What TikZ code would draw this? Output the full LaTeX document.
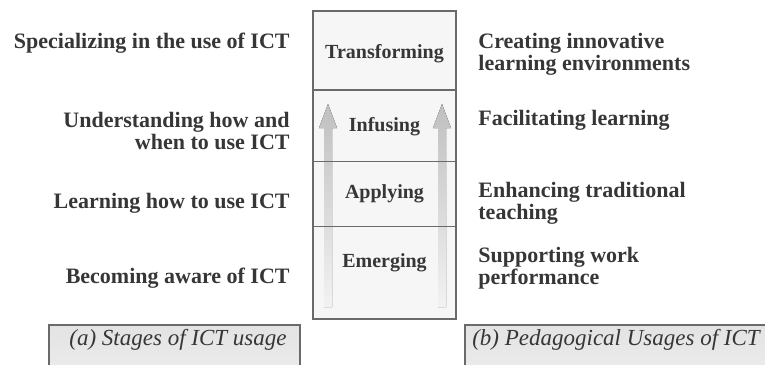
\documentclass[tikz,border=0pt]{standalone}
\usepackage{fontspec}
\setmainfont{Liberation Serif}
\usetikzlibrary{positioning}
\definecolor{inkgray}{HTML}{363636}
\definecolor{linegray}{HTML}{6A6A6A}
\begin{document}
\begin{tikzpicture}[x=0.5pt,y=-0.5pt,
    stage/.style={font=\fontsize{10}{11}\selectfont\bfseries, text=inkgray, inner sep=0pt},
    lefttext/.style={font=\fontsize{11}{11}\selectfont\bfseries, text=inkgray, inner sep=0pt, align=right, anchor=north east},
    righttext/.style={font=\fontsize{11}{11}\selectfont\bfseries, text=inkgray, inner sep=0pt, align=left, anchor=north west},
    captext/.style={font=\fontsize{11.5}{12}\selectfont\itshape, text=inkgray, inner sep=0pt},
    capbox/.style={draw=linegray, line width=0.7pt, top color=gray!22, bottom color=gray!14},
    uparrow/.style={top color=gray!50, bottom color=gray!10}]
  \useasboundingbox (0,0) rectangle (765,364);
  \clip (0,0) rectangle (765,364);
  % column
  \fill[gray!7] (313,11) rectangle (456,319);
  \fill[uparrow] (324,307) -- (324,128) -- (319,128) -- (328,104) -- (337,128) -- (332,128) -- (332,307) -- cycle;
  \fill[uparrow] (438,307) -- (438,128) -- (433,128) -- (442,104) -- (451,128) -- (446,128) -- (446,307) -- cycle;
  \draw [linegray, line width=0.6pt] (313,90) -- (456,90);
  \draw [linegray, line width=0.5pt] (313,161) -- (456,161);
  \draw [linegray, line width=0.5pt] (313,226) -- (456,226);
  \draw [linegray, line width=0.75pt] (313,11) rectangle (456,319);
  \node [stage] (transforming) at (384.5,54) {Transforming};
  \node [stage] (infusing) at (384.5,126.5) {Infusing};
  \node [stage] (applying) at (384.5,193.5) {Applying};
  \node [stage] (emerging) at (384.5,263) {Emerging};
  % left: stages of ICT usage
  \node [lefttext] (specializing) at (290,33) {Specializing in the use of ICT};
  \node [lefttext] (understanding) at (290,112) {Understanding how and\\when to use ICT};
  \node [lefttext] (learning) at (290,193) {Learning how to use ICT};
  \node [lefttext] (becoming) at (290,268) {Becoming aware of ICT};
  % right: pedagogical usages
  \node [righttext] (creating) at (478,33) {Creating innovative\\learning environments};
  \node [righttext] (facilitating) at (478,110) {Facilitating learning};
  \node [righttext] (enhancing) at (478,182) {Enhancing traditional\\teaching};
  \node [righttext] (supporting) at (478,247) {Supporting work\\performance};
  % captions
  \draw [capbox] (49,325) rectangle (300,380);
  \draw [capbox] (465,325) rectangle (790,380);
  \node [captext] (capA) at (178,340) {(a) Stages of ICT usage};
  \node [captext] (capB) at (616,340) {(b) Pedagogical Usages of ICT};
\end{tikzpicture}
\end{document}
